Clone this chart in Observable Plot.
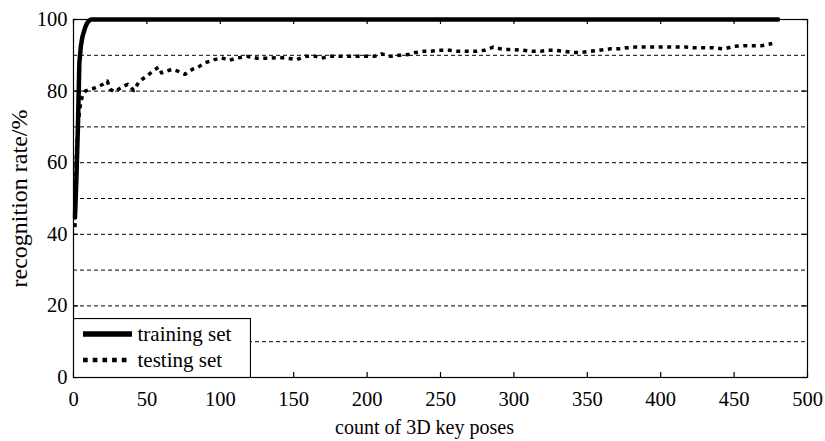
<!DOCTYPE html>
<html>
<head>
<meta charset="utf-8">
<script src="https://cdn.jsdelivr.net/npm/d3@7"></script>
<script src="https://cdn.jsdelivr.net/npm/@observablehq/plot@0.6"></script>
<style>
  html, body { margin: 0; padding: 0; background: #fff; }
  #wrap { position: relative; width: 825px; height: 441px; font-family: "Liberation Serif", "Times New Roman", "DejaVu Serif", serif; }
  #wrap text { font-family: "Liberation Serif", "Times New Roman", "DejaVu Serif", serif !important; }
</style>
</head>
<body>
<div id="wrap"></div>
<script>
// ---- data ----
const trainX = [1, 2, 3, 4, 5, 6, 7, 8, 9, 10, 11, 12, 480];
const trainY = [44.7, 56, 70, 88, 92.5, 95, 96.5, 97.8, 98.8, 99.4, 99.8, 100, 100];

const testX = [1, 2, 3, 4, 5, 6, 7, 8, 10, 12, 14, 16, 18, 20, 23, 25, 28, 33, 37, 41, 45, 50, 54, 58, 60, 67, 71, 76, 81, 85, 89, 96, 101, 106, 111, 118, 125, 132, 140, 147, 152, 158, 165, 169, 175, 182, 193, 205, 210, 216, 222, 228, 233, 239, 243, 249, 256, 262, 268, 274, 280, 286, 293, 300, 306, 313, 318, 323, 328, 334, 340, 345, 352, 358, 366, 372, 377, 383, 389, 394, 400, 406, 411, 417, 423, 430, 436, 443, 450, 457, 464, 469, 476];
const testY = [42, 63, 70, 74, 77, 78.5, 79.5, 80, 80.3, 80.6, 80.8, 81.2, 81.5, 81.9, 82.8, 80.5, 79.8, 81.1, 81.9, 80.2, 82.8, 84.2, 85.6, 86.7, 85.1, 86.1, 85.6, 84.7, 86.1, 86.7, 87.8, 88.8, 89.3, 88.6, 89.2, 89.7, 89.2, 89.2, 89.4, 89.1, 88.8, 89.7, 89.7, 89.2, 89.7, 89.7, 89.7, 89.7, 90.4, 89.7, 90, 90.2, 90.8, 91.1, 91.1, 91.4, 91.4, 91.1, 91.1, 91.1, 91.4, 92.3, 91.6, 91.6, 91.4, 91.1, 91.1, 91.4, 91.4, 91.1, 90.8, 90.8, 91.1, 91.4, 91.8, 91.8, 92.1, 92.3, 92.3, 92.3, 92.3, 92.3, 92.3, 92.3, 92.1, 92.1, 92.1, 91.8, 92.5, 92.7, 92.7, 92.7, 93.3];

const xTicks = [0, 50, 100, 150, 200, 250, 300, 350, 400, 450, 500];
const yTicks = [0, 20, 40, 60, 80, 100];
const gridY = [10, 20, 30, 40, 50, 60, 70, 80, 90];
const seriesNames = ["training set", "testing set"];
const xTitle = "count of 3D key poses";
const yTitle = "recognition rate/%";

const train = trainX.map((x, i) => ({x, y: trainY[i]}));
const test = testX.map((x, i) => ({x, y: testY[i]}));

const FONT = "'Liberation Serif', 'Times New Roman', 'DejaVu Serif', serif";
const FS = 20;

const chart = Plot.plot({
  width: 825,
  height: 441,
  marginLeft: 73,
  marginRight: 18,
  marginTop: 19,
  marginBottom: 64,
  style: {fontFamily: FONT, fontSize: FS + "px", background: "white", overflow: "visible", color: "black"},
  x: {domain: [0, 500]},
  y: {domain: [0, 100]},
  marks: [
    Plot.ruleY(gridY, {y: d => d, stroke: "black", strokeWidth: 1, strokeDasharray: "4,3"}),
    Plot.frame({stroke: "black", strokeWidth: 1.2}),
    // inward ticks
    Plot.ruleX(xTicks, {x: d => d, y1: 0, y2: 0, insetBottom: 5, stroke: "black", strokeWidth: 1.2}),
    Plot.ruleX(xTicks, {x: d => d, y1: 100, y2: 100, insetBottom: -5, stroke: "black", strokeWidth: 1.2}),
    Plot.ruleY(yTicks, {y: d => d, x1: 0, x2: 0, insetRight: -5, stroke: "black", strokeWidth: 1.2}),
    Plot.ruleY(yTicks, {y: d => d, x1: 500, x2: 500, insetLeft: -5, stroke: "black", strokeWidth: 1.2}),
    Plot.axisX({ticks: xTicks, tickSize: 0, tickPadding: 14, fontSize: 20.5, label: null, tickFormat: d => String(d)}),
    Plot.axisY({ticks: yTicks, tickSize: 0, tickPadding: 6, fontSize: 20.5, label: null, tickFormat: d => String(d)}),
    Plot.line(test, {x: "x", y: "y", stroke: "black", strokeWidth: 3.5, strokeDasharray: "4,4.5", strokeLinecap: "butt"}),
    Plot.line(train, {x: "x", y: "y", stroke: "black", strokeWidth: 4.5, strokeLinejoin: "round"}),
    Plot.text([xTitle], {text: d => d, frameAnchor: "bottom", dy: 50, dx: -16, fontSize: FS, lineAnchor: "middle"}),
    Plot.text([yTitle], {text: d => d, frameAnchor: "left", dx: -54, rotate: -90, fontSize: 24, textAnchor: "middle", lineAnchor: "middle"})
  ]
});

const wrap = document.getElementById("wrap");
wrap.appendChild(chart);

// legend (SVG overlay above the plot)
const lw = 177, lh = 59;
const leg = d3.create("svg").attr("width", lw + 1).attr("height", lh + 1)
  .style("position", "absolute").style("left", "73px").style("top", "318px");
leg.append("rect").attr("x", 0.5).attr("y", 0.5).attr("width", lw).attr("height", lh)
  .attr("fill", "white").attr("stroke", "black").attr("stroke-width", 1.2);
const rows = [
  {name: seriesNames[0], y: 16, sw: 5.5, dash: null, x2: 59},
  {name: seriesNames[1], y: 42, sw: 4.5, dash: "4.7,5", x2: 54}
];
for (const r of rows) {
  const ln = leg.append("line").attr("x1", 10).attr("x2", r.x2).attr("y1", r.y).attr("y2", r.y)
    .attr("stroke", "black").attr("stroke-width", r.sw);
  if (r.dash) ln.attr("stroke-dasharray", r.dash);
  leg.append("text").attr("x", 64.5).attr("y", r.y).attr("dy", "0.32em")
    .style("font-family", FONT).attr("font-size", 21).attr("fill", "black").text(r.name);
}
wrap.appendChild(leg.node());
</script>
</body>
</html>
